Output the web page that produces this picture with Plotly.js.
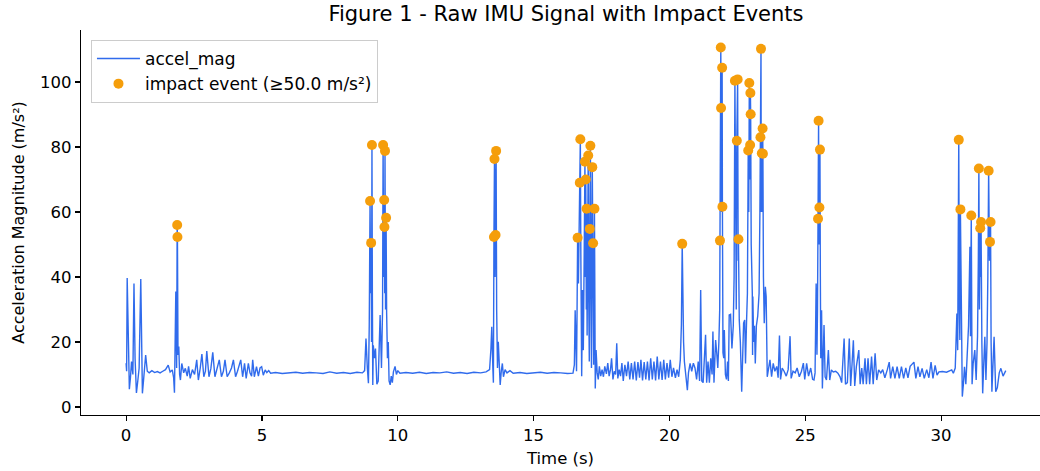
<!DOCTYPE html>
<html>
<head>
<meta charset="utf-8">
<script src="https://cdn.plot.ly/plotly-3.0.1.min.js"></script>
<style>html,body{margin:0;padding:0;background:#fff;}#chart{width:1040px;height:471px;}</style>
</head>
<body>
<div id="chart"></div>
<script>
// ---- data ----
const timeS = [
0.00,0.02,0.04,0.08,0.12,0.16,0.20,0.25,0.29,0.33,0.38,0.43,0.48,0.54,0.57,0.60,0.65,0.72,0.78,0.85,0.95,1.05,1.15,1.25,1.35,1.45,1.55,1.62,1.70,1.75,1.78,1.81,1.83,1.86,1.88,1.89,1.91,1.94,1.97,2.00,
2.05,2.12,2.18,2.25,2.30,2.36,2.44,2.52,2.60,2.66,2.73,2.79,2.86,2.92,2.97,3.05,3.12,3.19,3.27,3.35,3.43,3.51,3.58,3.64,3.72,3.80,3.88,3.95,4.03,4.10,4.16,4.22,4.29,4.36,4.42,4.50,4.56,4.62,4.66,4.72,4.80,4.87,4.93,4.99,5.05,5.12,5.18,5.25,5.32,
5.50,5.75,6.00,6.25,6.50,6.75,7.00,7.25,7.50,7.75,8.00,8.25,8.50,8.70,8.78,
8.83,8.88,8.92,8.95,8.98,9.00,9.02,9.035,9.05,9.065,9.08,9.10,9.14,9.18,9.23,9.28,9.35,9.40,9.44,9.46,9.48,9.50,9.51,9.52,9.53,9.55,9.57,9.59,9.62,9.65,9.68,9.72,9.76,9.80,9.84,9.90,9.95,10.00,10.08,
10.30,10.55,10.80,11.05,11.30,11.55,11.80,12.05,12.30,12.55,12.80,13.05,13.25,13.38,
13.43,13.46,13.50,13.52,13.54,13.56,13.58,13.60,13.62,13.64,13.67,13.70,13.74,13.77,13.81,13.85,13.89,13.95,14.02,14.13,14.25,
14.50,14.75,15.00,15.25,15.50,15.75,16.00,16.25,16.45,
16.50,16.53,16.56,16.58,16.60,16.62,16.65,16.68,16.70,16.72,16.74,16.77,16.80,16.83,16.86,16.89,16.90,16.92,16.94,16.95,16.97,16.99,17.01,17.03,17.05,17.07,17.09,17.11,17.13,17.16,17.18,17.19,17.21,17.24,17.26,17.27,17.30,17.34,17.38,17.42,17.47,17.52,17.57,
17.62,17.68,17.73,17.78,17.83,17.87,17.92,17.97,18.02,18.06,18.10,18.15,18.20,18.25,18.30,18.36,18.42,18.48,18.54,18.60,18.66,18.72,18.78,18.84,18.90,18.95,19.01,19.07,19.13,19.19,19.25,19.31,19.37,19.43,19.49,19.55,19.61,19.67,19.73,19.79,19.85,19.91,19.97,20.03,20.09,20.15,20.22,20.28,20.34,20.40,
20.44,20.47,20.49,20.52,20.55,20.58,20.62,20.66,20.70,20.76,20.82,20.88,20.94,21.00,21.06,21.11,21.15,21.19,21.24,21.28,21.33,21.37,21.42,21.47,21.52,21.57,21.60,21.64,21.70,21.74,21.78,21.82,
21.85,21.86,21.88,21.89,21.90,21.92,21.94,21.95,21.97,22.00,22.02,22.06,22.10,22.14,22.17,22.20,22.25,22.30,22.35,22.38,22.41,22.44,22.46,22.48,22.51,22.53,22.54,22.57,22.61,22.66,22.70,22.73,22.77,22.80,22.84,22.87,22.90,22.92,22.94,22.96,22.97,22.98,22.99,23.01,23.03,23.05,23.06,23.07,23.10,23.13,23.16,23.20,23.25,23.30,23.33,23.35,23.37,23.38,23.40,23.42,23.43,23.44,23.46,23.49,23.53,23.56,23.60,
23.66,23.70,23.76,23.82,23.88,23.95,24.00,24.05,24.09,24.15,24.22,24.30,24.37,24.44,24.48,24.55,24.63,24.70,24.78,24.86,24.93,24.98,25.05,25.12,25.20,25.27,25.32,
25.36,25.40,25.43,25.45,25.47,25.49,25.50,25.52,25.54,25.555,25.57,25.60,25.63,25.69,25.73,25.78,25.85,25.90,25.96,26.03,26.12,26.20,26.28,26.34,26.43,26.48,26.55,26.62,26.67,26.72,26.77,26.82,26.88,26.97,27.02,27.08,27.13,27.20,27.25,27.31,27.37,27.44,27.50,27.57,27.63,27.70,27.78,27.85,27.93,28.02,28.09,28.14,28.22,28.30,28.38,28.46,28.54,28.62,28.70,28.78,28.86,29.00,29.07,29.15,29.22,29.30,29.38,29.47,29.55,29.63,29.70,29.78,29.85,29.92,30.05,30.20,30.39,30.45,
30.52,30.54,30.58,30.61,30.63,30.65,30.67,30.69,30.71,30.73,30.75,30.78,30.82,30.86,30.91,30.97,31.01,31.06,31.08,31.11,31.14,31.18,31.24,31.29,31.34,31.37,31.39,31.41,31.44,31.46,31.47,31.50,31.53,31.57,31.61,31.65,31.69,31.72,31.75,31.78,31.80,31.82,31.84,31.87,31.95,32.01,32.07,32.14,32.20,32.28,32.38
];
const accelMag = [
13.5,11.0,39.7,20,5.5,9,14,10,38,15,4.3,8,12,39.4,15,4.2,9,16,11,10.5,11.2,10.6,10.9,10.5,11.0,11.5,12.9,10.8,11.4,9,4.4,20,35.5,12,56.0,52.3,16,18.6,10,8.3,
13.4,10.5,11.9,9.5,12.5,8.8,11.5,10,14.5,8.3,12,16.3,9.3,11,17.2,9.3,11.8,16.8,9.3,12,14.5,9.3,11,14.5,9.3,10.5,12,14.5,9.3,11,12.5,14.5,9.3,13.4,8.8,13.4,10.5,9.5,14.5,9.3,12.4,9.5,12,12.4,9.8,11.4,10.6,11.2,10.4,
10.6,10.3,10.5,10.7,10.4,10.6,10.5,10.3,10.8,10.4,10.6,10.3,10.7,10.5,11.2,
21.1,12,7.3,25,63.4,35,50.5,20,80.6,35,6.8,19,15,18,7,8,28.3,12,30,80.6,40,63.7,55.4,35,78.8,30,58.2,29,15,20,8,6.8,9.5,7.5,10.8,12.5,10,11.2,10.4,
10.6,10.4,10.7,10.3,10.6,10.5,10.8,10.4,10.6,10.3,10.7,10.5,10.8,11.5,
18,24.7,12,7.5,52.3,76.3,40,52.9,78.8,30,12,20.1,9,6.8,11,13.4,9.3,11.5,10.5,11.2,10.4,
10.6,10.3,10.5,10.7,10.4,10.6,10.5,10.3,10.4,
13,29.8,13,11,30,52.1,38,55,69.0,82.4,45,9.5,36,17.5,45,75.5,40,70.0,30,61.0,22,50,77.4,32,14,54.8,80.4,35,12,73.8,40,50.4,13,61.0,18,5.7,17.5,10.5,8.5,12.5,9.5,11.5,9.3,
12.5,10.2,13.5,9.5,11.5,15.0,8.5,11,10,19.6,8.8,11.5,9.5,13.5,8,13,9.5,14,8.5,13.5,8.5,14,8.2,13.8,9,14.5,8.2,13.8,8.5,14,8.2,15,8.5,14,8.2,15.5,8.5,14,8.3,14.5,8.5,13.5,9,14.5,9.3,12,9,11.5,9.3,14.5,
25.2,50.2,30,20.1,14,12,8.3,5.2,10.5,13.4,11,13.5,12,8.5,14,8,36,8,7.5,14,22.2,7.5,14,7.5,15,10,23.2,7.5,20.6,16.7,12,20,
30,51.2,90,110.6,92.0,60,104.4,61.6,16.7,15,23.7,10,8.5,14,8,28.3,28.5,18,25,40,100.4,60,30,81.9,100.8,45,51.6,26.8,20,4.7,13.4,25.8,26.8,13.4,26.8,35,78.9,60,99.7,70,80.6,96.6,90.1,50,43.2,35,16,34,20,25,13.4,25,28,35,60,83.0,110.2,60,78.1,60,85.7,77.9,40,25.8,37,34,9.3,
13.4,14.5,9.3,13.4,11,12.5,9,22,8.5,12,11,9.5,11.5,21.8,8.8,11,10.5,12,9.3,11,13.5,8.5,13.4,9.5,12,8.5,8.3,
10.5,38,16.1,30,57.9,88.1,50,61.4,79.2,40,15,29.8,5.7,25.2,9.3,8.3,17.5,8.3,11.4,10.8,11.0,10.4,9.3,7.5,21.1,7.0,7.5,21.1,6.5,13,20.5,6.5,12.4,17.5,7,12,7,15,7,15,7,15.5,7,16.5,8.3,11.4,10.5,11.5,9,11.5,13.8,8.8,12.4,8.8,12.4,8.8,12.4,8.8,12.0,9.0,12.5,13.8,8.8,12.4,9.3,11.9,8.8,11.5,9.0,13.8,8.8,12.8,9.8,10.8,10.9,10.7,11.4,10.4,
12,17.5,28.8,17.5,50,82.2,30,20.6,60.8,40,13.4,3.2,7,12.4,7,17.5,25,49.3,21.8,58.9,7,13.4,17.5,8.3,21.8,45,73.4,30,55.0,40,56.9,20,4.2,13.4,21.6,8.3,19.9,40,72.7,45,50.8,56.9,20,4.7,21.6,4.7,6,10.5,11.9,9.5,11.2
];
const eventTime = [1.88,1.89, 8.98,9.02,9.05,9.46,9.50,9.51,9.53,9.57, 13.54,13.56,13.60,13.62,
16.62,16.70,16.72,16.89,16.92,16.95,17.01,17.07,17.09,17.16,17.19,17.24, 20.47,
21.86,21.89,21.90,21.94,21.95,22.41,22.48,22.51,22.54,22.90,22.94,22.97,22.98,22.99,23.35,23.37,23.40,23.43,23.44,
25.47,25.49,25.52,25.54, 30.65,30.71,31.11,31.39,31.44,31.47,31.75,31.80,31.82];
const eventMag = [56.0,52.3, 63.4,50.5,80.6,80.6,63.7,55.4,78.8,58.2, 52.3,76.3,52.9,78.8,
52.1,69.0,82.4,75.5,70.0,61.0,77.4,54.8,80.4,73.8,50.4,61.0, 50.2,
51.2,110.6,92.0,104.4,61.6,100.4,81.9,100.8,51.6,78.9,99.7,80.6,96.6,90.1,83.0,110.2,78.1,85.7,77.9,
57.9,88.1,61.4,79.2, 82.2,60.8,58.9,73.4,55.0,56.9,72.7,50.8,56.9];
const xTicks = [0,5,10,15,20,25,30];
const yTicks = [0,20,40,60,80,100];
const thresholdLabel = 'impact event (≥50.0 m/s²)';

const FONT = 'DejaVu Sans, sans-serif';
const traces = [
  {x: timeS, y: accelMag, type: 'scatter', mode: 'lines', name: 'accel_mag',
   line: {color: '#2563EB', width: 1.4}, opacity: 0.95},
  {x: eventTime, y: eventMag, type: 'scatter', mode: 'markers', name: thresholdLabel,
   marker: {color: '#F59E0B', size: 10, line: {width: 0}}}
];
const layout = {
  width: 1040, height: 471,
  margin: {l: 81, r: 0, t: 30, b: 56},
  paper_bgcolor: '#ffffff', plot_bgcolor: '#ffffff',
  font: {family: FONT, size: 16.5, color: '#000'},
  title: {text: 'Figure 1 - Raw IMU Signal with Impact Events', font: {family: FONT, size: 21, color: '#000'},
          x: 0.5057, xref: 'paper', xanchor: 'center', y: 1 - 14/471, yref: 'container', yanchor: 'middle'},
  xaxis: {range: [-1.66, 33.64], tickvals: xTicks, ticktext: xTicks.map(String),
          showline: true, linecolor: '#000', linewidth: 1.2, ticks: 'outside', ticklen: 5, tickwidth: 1.2, tickcolor: '#000',
          showgrid: false, zeroline: false, tickfont: {family: FONT, size: 16.5},
          title: {text: 'Time (s)', font: {family: FONT, size: 16.5}, standoff: 8}},
  yaxis: {range: [-2.46, 116], tickvals: yTicks, ticktext: yTicks.map(String),
          showline: true, linecolor: '#000', linewidth: 1.2, ticks: 'outside', ticklen: 5, tickwidth: 1.2, tickcolor: '#000',
          showgrid: false, zeroline: false, tickfont: {family: FONT, size: 16.5},
          title: {text: 'Acceleration Magnitude (m/s²)', font: {family: FONT, size: 16}, standoff: 11}},
  showlegend: true,
  legend: {x: 0.0104, y: 0.974, xanchor: 'left', yanchor: 'top', bgcolor: 'rgba(255,255,255,0.85)',
           bordercolor: '#cccccc', borderwidth: 1, itemwidth: 43, font: {family: FONT, size: 17, color: '#000'}}
};
Plotly.newPlot('chart', traces, layout, {displayModeBar: false, staticPlot: true});
</script>
</body>
</html>
